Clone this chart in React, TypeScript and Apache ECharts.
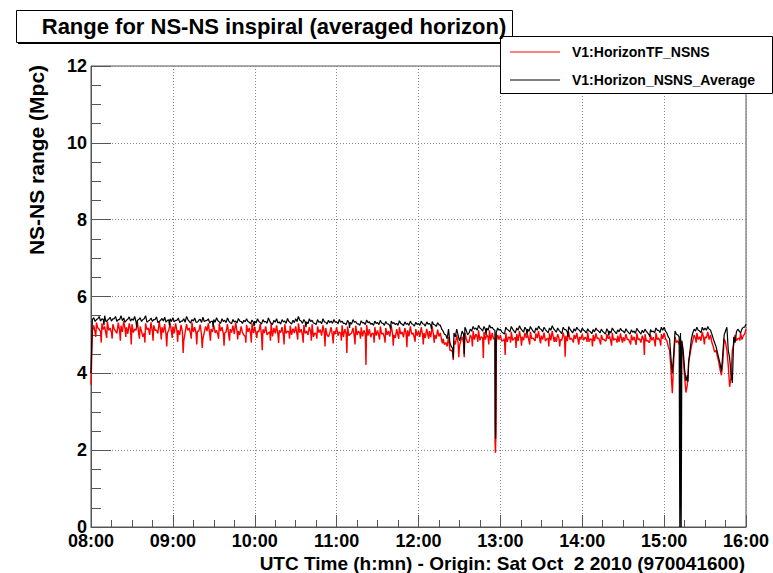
import React, { useEffect, useRef } from 'react';
import * as echarts from 'echarts';

const chartTitle = 'Range for NS-NS inspiral (averaged horizon)';
const yAxisTitle = 'NS-NS range (Mpc)';
const xAxisTitle = 'UTC Time (h:mn) - Origin: Sat Oct  2 2010 (970041600)';
const seriesNames = ['V1:HorizonTF_NSNS', 'V1:Horizon_NSNS_Average'];
const seriesColors = ['#ff0000', '#000000'];
const xTickLabels = ['08:00', '09:00', '10:00', '11:00', '12:00', '13:00', '14:00', '15:00', '16:00'];

// minutes since 08:00: "even" arrays at 0,2,4,...,480 ; "odd" arrays at 1,3,...,479
const sampleStepMin = 2;

const redEven = [
  3.7, 5.25, 5.32, 5.15, 5.30, 5.22, 5.35, 5.18, 5.28, 5.10, 5.32, 5.24, 5.36, 5.20, 5.30,
  5.28, 5.15, 5.34, 5.22, 4.95, 5.30, 5.18, 5.33, 5.25, 5.12, 5.35, 5.20, 5.28, 5.05, 5.30,
  5.22, 5.30, 5.12, 5.26, 4.85, 5.28, 5.18, 5.32, 5.20, 5.10, 5.27, 4.90, 5.22, 5.30, 5.15,
  5.25, 5.12, 5.30, 5.20, 5.05, 5.28, 5.15, 5.24, 5.32, 5.10, 5.22, 5.00, 5.26, 5.18, 5.30,
  5.20, 5.10, 5.28, 5.15, 5.22, 5.05, 5.30, 5.18, 5.25, 5.12, 5.20, 5.28, 5.10, 5.24, 5.16,
  5.22, 5.30, 5.15, 5.26, 5.10, 5.20, 5.28, 5.05, 5.22, 5.14, 5.25, 5.18, 4.95, 5.20, 5.10,
  5.20, 5.08, 5.25, 5.15, 5.22, 5.02, 5.18, 5.24, 5.10, 5.20, 5.12, 5.26, 5.15, 5.05, 5.20,
  5.12, 5.22, 5.05, 5.18, 5.10, 5.24, 5.00, 5.15, 5.20, 5.08, 5.18, 5.12, 5.22, 5.05, 5.15,
  5.10, 5.20, 5.05, 5.16, 5.10, 5.22, 5.00, 5.14, 5.05, 4.90, 4.80, 4.95, 4.60, 4.85, 5.00,
  4.70, 4.95, 5.05, 4.80, 5.00, 5.10, 5.02, 5.12, 4.95, 5.08, 5.00, 5.12, 5.05, 4.90, 5.00,
  5.00, 4.85, 5.05, 4.95, 5.08, 4.90, 5.02, 5.10, 4.95, 5.05, 5.00, 5.08, 4.92, 5.04, 5.10,
  4.98, 5.06, 4.90, 5.04, 5.10, 4.95, 5.02, 4.88, 5.06, 4.98, 5.08, 4.92, 5.00, 5.05, 4.95,
  5.02, 4.94, 5.06, 4.90, 5.00, 5.04, 4.92, 5.00, 4.88, 5.02, 4.96, 5.05, 4.90, 4.98, 5.04,
  4.94, 5.02, 4.88, 5.00, 4.95, 5.04, 4.90, 4.98, 5.02, 4.86, 5.00, 4.94, 5.05, 4.92, 5.02,
  5.05, 4.85, 4.60, 3.48, 4.95, 4.85, 4.90, 4.40, 3.50, 4.30, 4.70, 5.00, 5.05, 4.95, 5.08,
  4.95, 5.08, 5.00, 4.70, 4.60, 4.30, 3.95, 4.90, 4.60, 3.65, 4.60, 5.00, 4.90, 5.05, 4.98,
  5.15,
];

const redOdd = [
  5.10, 5.05, 5.18, 5.08, 5.14, 5.02, 5.12, 5.06, 5.16, 5.04, 5.10, 5.08, 5.15, 5.03, 5.12,
  5.06, 5.12, 5.02, 5.10, 5.05, 5.14, 5.00, 5.08, 5.12, 5.04, 5.10, 5.06, 5.00, 5.12, 5.08,
  5.04, 5.10, 5.00, 5.08, 5.06, 5.12, 5.02, 5.08, 5.04, 5.10, 5.00, 5.06, 5.10, 5.02, 5.08,
  5.05, 5.00, 5.10, 5.03, 5.08, 4.98, 5.06, 5.02, 5.10, 5.00, 5.06, 4.96, 5.08, 5.02, 5.05,
  5.02, 5.08, 4.98, 5.05, 5.00, 5.08, 4.96, 5.04, 5.00, 5.06, 4.98, 5.04, 5.08, 5.00, 5.05,
  5.00, 5.06, 4.98, 5.04, 5.00, 5.08, 4.95, 5.02, 5.06, 4.98, 5.04, 5.00, 5.06, 4.96, 5.02,
  4.98, 5.04, 4.95, 5.02, 4.98, 5.05, 4.94, 5.00, 5.04, 4.96, 5.02, 4.98, 4.94, 5.02, 4.98,
  4.96, 5.02, 4.94, 5.00, 4.96, 5.03, 4.92, 4.98, 5.02, 4.94, 5.00, 4.96, 5.02, 4.92, 4.98,
  4.95, 5.00, 4.92, 4.98, 4.94, 5.00, 4.90, 4.96, 4.85, 4.75, 4.70, 4.60, 4.55, 4.75, 4.80,
  4.85, 4.80, 4.90, 4.82, 4.92, 4.88, 4.95, 4.86, 4.92, 4.88, 4.94, 4.86, 4.90, 4.82, 4.88,
  4.84, 4.90, 4.82, 4.92, 4.86, 4.94, 4.84, 4.90, 4.86, 4.92, 4.84, 4.90, 4.86, 4.92, 4.85,
  4.88, 4.84, 4.92, 4.86, 4.90, 4.82, 4.90, 4.86, 4.92, 4.84, 4.88, 4.85, 4.90, 4.84, 4.88,
  4.86, 4.90, 4.82, 4.88, 4.84, 4.90, 4.82, 4.88, 4.84, 4.90, 4.82, 4.86, 4.88, 4.82, 4.86,
  4.84, 4.88, 4.80, 4.86, 4.82, 4.88, 4.80, 4.86, 4.84, 4.80, 4.86, 4.82, 4.88, 4.84, 4.90,
  4.90, 4.70, 4.10, 4.30, 4.80, 4.75, 4.60, 3.90, 3.70, 4.50, 4.85, 4.90, 4.88, 4.85, 4.90,
  4.92, 4.88, 4.80, 4.55, 4.45, 4.10, 4.30, 4.80, 4.20, 3.90, 4.75, 4.85, 4.92, 4.88, 5.02,
];

const blackEven = [
  4.00, 5.45, 5.40, 5.48, 5.42, 5.50, 5.38, 5.46, 5.42, 5.48, 5.40, 5.50, 5.44, 5.38, 5.47,
  5.42, 5.48, 5.38, 5.45, 5.40, 5.50, 5.36, 5.44, 5.40, 5.47, 5.35, 5.43, 5.46, 5.38, 5.42,
  5.45, 5.38, 5.44, 5.36, 5.42, 5.48, 5.35, 5.40, 5.44, 5.33, 5.41, 5.46, 5.37, 5.42, 5.35,
  5.40, 5.45, 5.34, 5.42, 5.38, 5.44, 5.32, 5.40, 5.36, 5.43, 5.35, 5.38, 5.42, 5.33, 5.39,
  5.36, 5.42, 5.32, 5.40, 5.35, 5.44, 5.30, 5.38, 5.42, 5.34, 5.40, 5.36, 5.43, 5.32, 5.38,
  5.42, 5.48, 5.36, 5.40, 5.34, 5.42, 5.38, 5.30, 5.40, 5.35, 5.42, 5.33, 5.38, 5.36, 5.40,
  5.34, 5.40, 5.36, 5.30, 5.38, 5.33, 5.40, 5.35, 5.29, 5.37, 5.32, 5.39, 5.34, 5.30, 5.36,
  5.32, 5.38, 5.30, 5.35, 5.28, 5.36, 5.32, 5.30, 5.37, 5.28, 5.34, 5.30, 5.36, 5.27, 5.33,
  5.30, 5.36, 5.28, 5.34, 5.30, 5.35, 5.26, 5.32, 5.25, 5.10, 5.00, 5.15, 4.70, 5.05, 5.15,
  4.85, 5.10, 5.20, 5.00, 5.15, 5.22, 5.18, 5.25, 5.15, 5.22, 5.18, 5.26, 5.20, 5.12, 5.18,
  5.15, 5.05, 5.20, 5.12, 5.22, 5.10, 5.18, 5.24, 5.12, 5.20, 5.15, 5.22, 5.10, 5.18, 5.23,
  5.14, 5.20, 5.10, 5.18, 5.24, 5.12, 5.18, 5.08, 5.20, 5.14, 5.22, 5.10, 5.16, 5.20, 5.12,
  5.18, 5.10, 5.16, 5.08, 5.14, 5.18, 5.10, 5.15, 5.06, 5.16, 5.10, 5.18, 5.08, 5.13, 5.17,
  5.10, 5.16, 5.06, 5.13, 5.10, 5.17, 5.07, 5.12, 5.15, 5.05, 5.14, 5.10, 5.18, 5.12, 5.20,
  5.20, 5.05, 4.90, 4.00, 5.10, 5.00, 5.05, 4.60, 3.80, 4.30, 4.90, 5.15, 5.20, 5.10, 5.20,
  5.18, 5.22, 5.12, 4.90, 4.70, 4.40, 4.05, 5.00, 5.20, 4.40, 3.75, 4.80, 5.15, 5.05, 5.20,
  5.28,
];

const blackOdd = [
  5.40, 5.35, 5.42, 5.36, 5.40, 5.34, 5.41, 5.36, 5.42, 5.35, 5.40, 5.37, 5.33, 5.41, 5.36,
  5.38, 5.34, 5.40, 5.35, 5.42, 5.33, 5.38, 5.35, 5.40, 5.32, 5.38, 5.36, 5.33, 5.39, 5.35,
  5.34, 5.38, 5.32, 5.36, 5.33, 5.40, 5.31, 5.36, 5.33, 5.38, 5.32, 5.35, 5.38, 5.31, 5.36,
  5.33, 5.37, 5.30, 5.35, 5.32, 5.36, 5.29, 5.34, 5.31, 5.36, 5.30, 5.34, 5.35, 5.29, 5.33,
  5.31, 5.35, 5.28, 5.34, 5.30, 5.36, 5.27, 5.33, 5.31, 5.28, 5.34, 5.30, 5.35, 5.28, 5.32,
  5.35, 5.38, 5.30, 5.34, 5.29, 5.35, 5.31, 5.27, 5.33, 5.29, 5.34, 5.28, 5.32, 5.30, 5.33,
  5.29, 5.33, 5.30, 5.26, 5.32, 5.28, 5.33, 5.29, 5.25, 5.31, 5.27, 5.32, 5.28, 5.25, 5.30,
  5.27, 5.31, 5.25, 5.29, 5.24, 5.30, 5.27, 5.25, 5.30, 5.24, 5.28, 5.25, 5.29, 5.23, 5.27,
  5.25, 5.29, 5.23, 5.28, 5.25, 5.28, 5.22, 5.26, 5.15, 5.02, 4.90, 4.80, 4.65, 4.95, 5.00,
  4.95, 5.02, 5.12, 5.05, 5.10, 5.15, 5.12, 5.18, 5.10, 5.15, 5.12, 5.18, 5.14, 5.06, 5.12,
  5.08, 5.02, 5.14, 5.08, 5.15, 5.05, 5.12, 5.16, 5.07, 5.14, 5.09, 5.15, 5.05, 5.12, 5.16,
  5.08, 5.14, 5.05, 5.12, 5.16, 5.07, 5.12, 5.03, 5.14, 5.08, 5.15, 5.05, 5.10, 5.14, 5.06,
  5.12, 5.05, 5.10, 5.03, 5.08, 5.12, 5.05, 5.09, 5.02, 5.10, 5.05, 5.12, 5.03, 5.08, 5.11,
  5.05, 5.10, 5.02, 5.07, 5.04, 5.11, 5.02, 5.06, 5.09, 5.00, 5.08, 5.05, 5.12, 5.06, 5.12,
  5.10, 4.95, 4.40, 4.50, 5.02, 4.95, 4.85, 4.10, 3.95, 4.60, 5.05, 5.10, 5.12, 5.06, 5.12,
  5.12, 5.15, 5.02, 4.80, 4.55, 4.25, 4.50, 5.10, 4.60, 4.00, 4.95, 5.08, 5.10, 5.15, 5.20,
];

// narrow glitches: [minutes since 08:00, Mpc]
const redSpikes = [
  [3.5, 4.95], [7.5, 4.8], [11.5, 4.92], [15.5, 4.9], [21.5, 4.85], [25.5, 4.95], [29.5, 4.75],
  [35.5, 4.9], [39.5, 4.8], [45.5, 4.85], [51.5, 4.88], [55.5, 4.7], [59.5, 4.92], [63.5, 4.82],
  [67.5, 4.53], [73.5, 4.9], [77.5, 4.75], [81.5, 4.66], [87.5, 4.85], [93.5, 4.9], [97.5, 4.72],
  [101.5, 4.85], [107.5, 4.88], [113.5, 4.8], [117.5, 4.8], [121.5, 4.92], [125.5, 4.6],
  [131.5, 4.85], [137.5, 4.79], [141.5, 4.75], [145.5, 4.9], [151.5, 4.88], [155.5, 4.8],
  [161.5, 4.85], [165.5, 4.9], [171.5, 4.7], [177.5, 4.78], [183.5, 4.85], [187.5, 4.53],
  [193.5, 4.75], [197.5, 4.9], [201.5, 4.22], [207.5, 4.8], [211.5, 4.88], [215.5, 4.8],
  [221.5, 4.72], [225.5, 4.9], [231.5, 4.68], [237.5, 4.82], [243.5, 4.75], [247.5, 4.9],
  [251.5, 4.8], [257.5, 4.78], [265.5, 4.35], [269.5, 4.42], [273.5, 4.42], [279.5, 4.7],
  [283.5, 4.82], [287.5, 4.4], [291.5, 4.75], [296.1, 2.2], [296.4, 1.93], [296.8, 2.5],
  [303.5, 4.48], [307.5, 4.8], [311.5, 4.66], [315.5, 4.72], [321.5, 4.75], [325.5, 4.85],
  [329.5, 4.78], [335.5, 4.7], [339.5, 4.82], [343.5, 4.7], [347.5, 4.43], [353.5, 4.8],
  [357.5, 4.75], [363.5, 4.82], [367.5, 4.7], [373.5, 4.75], [377.5, 4.85], [381.5, 4.72],
  [385.5, 4.8], [389.5, 4.8], [395.5, 4.75], [399.5, 4.74], [405.5, 4.48], [409.5, 4.82],
  [413.5, 4.7], [417.5, 4.72], [443.5, 4.8], [449.5, 4.75], [455.5, 4.8], [475.5, 4.85],
];
const blackSpikes = [
  [9.5, 5.25], [33.5, 5.2], [57.5, 5.25], [89.5, 5.2], [119.5, 5.22], [157.5, 5.2], [189.5, 5.18],
  [219.5, 5.15], [249.5, 5.15], [265.5, 4.4], [273.5, 4.5], [289.5, 5.0], [296.3, 2.6], [296.5, 2.3],
  [319.5, 5.0], [349.5, 4.95], [379.5, 4.98], [409.5, 4.95], [431.5, 0], [432.5, 0], [437.5, 3.78],
];

const FONT = "'Liberation Sans', Arial, Helvetica, sans-serif";

function buildSeries(even: number[], odd: number[], spikes: number[][]) {
  const pts: number[][] = [];
  even.forEach((v, i) => {
    pts.push([i * sampleStepMin, v]);
    if (i < odd.length) pts.push([i * sampleStepMin + sampleStepMin / 2, odd[i]]);
  });
  return pts.concat(spikes).sort((a, b) => a[0] - b[0]);
}

export default function App() {
  const ref = useRef<HTMLDivElement>(null);
  useEffect(() => {
    if (!ref.current) return;
    const chart = echarts.init(ref.current, undefined, { renderer: 'svg' });
    const axisColor = '#555';
    const option: any = {
      animation: false,
      backgroundColor: '#ffffff',
      grid: {
        left: 91, top: 66, width: 655, height: 461,
        show: true, borderColor: axisColor, borderWidth: 1, containLabel: false,
      },
      xAxis: {
        type: 'value', min: 0, max: 480, interval: 60,
        axisLine: { show: true, onZero: false, lineStyle: { color: axisColor, width: 1 } },
        axisTick: { show: true, inside: true, length: 12, lineStyle: { color: axisColor } },
        minorTick: { show: true, splitNumber: 4, length: 7, lineStyle: { color: axisColor } },
        splitLine: { show: true, lineStyle: { color: '#888', width: 1, type: [1, 2] } },
        axisLabel: {
          formatter: (v: number) => xTickLabels[Math.round(v / 60)] ?? '',
          fontSize: 18, fontWeight: 'bold', color: '#000', fontFamily: FONT, margin: 5,
        },
      },
      yAxis: {
        type: 'value', min: 0, max: 12, interval: 2,
        axisLine: { show: true, onZero: false, lineStyle: { color: axisColor, width: 1 } },
        axisTick: { show: true, inside: true, length: 20, lineStyle: { color: axisColor } },
        minorTick: { show: true, splitNumber: 4, length: 10, lineStyle: { color: axisColor } },
        splitLine: { show: true, lineStyle: { color: '#888', width: 1, type: [1, 2] } },
        axisLabel: { fontSize: 18, fontWeight: 'bold', color: '#000', fontFamily: FONT, margin: 4 },
      },
      series: [
        {
          type: 'line', name: seriesNames[0], data: buildSeries(redEven, redOdd, redSpikes),
          showSymbol: false, symbol: 'none', z: 2,
          lineStyle: { color: seriesColors[0], width: 1.4 }, itemStyle: { color: seriesColors[0] },
        },
        {
          type: 'line', name: seriesNames[1], data: buildSeries(blackEven, blackOdd, blackSpikes),
          showSymbol: false, symbol: 'none', z: 3,
          lineStyle: { color: seriesColors[1], width: 1.2 }, itemStyle: { color: seriesColors[1] },
        },
      ],
      graphic: [
        { type: 'rect', z: 100, shape: { x: 16.5, y: 10.5, width: 496, height: 32 },
          style: { fill: '#fff', stroke: '#000', lineWidth: 1 } },
        { type: 'line', z: 100, shape: { x1: 18, y1: 43.5, x2: 513, y2: 43.5 },
          style: { stroke: '#000', lineWidth: 1 } },
        { type: 'text', z: 101, x: 274, y: 26,
          style: { text: chartTitle, fill: '#000', font: `bold 22px ${FONT}`,
            align: 'center', verticalAlign: 'middle', textAlign: 'center', textVerticalAlign: 'middle' } },
        { type: 'rect', z: 100, shape: { x: 500.5, y: 36.5, width: 272, height: 57 },
          style: { fill: '#fff', stroke: '#000', lineWidth: 1 } },
        { type: 'line', z: 101, shape: { x1: 510, y1: 52, x2: 560, y2: 52 },
          style: { stroke: seriesColors[0], lineWidth: 1 } },
        { type: 'text', z: 101, x: 572, y: 52,
          style: { text: seriesNames[0], fill: '#000', font: `bold 14px ${FONT}`,
            align: 'left', verticalAlign: 'middle', textAlign: 'left', textVerticalAlign: 'middle' } },
        { type: 'line', z: 101, shape: { x1: 510, y1: 80, x2: 560, y2: 80 },
          style: { stroke: seriesColors[1], lineWidth: 1 } },
        { type: 'text', z: 101, x: 572, y: 80,
          style: { text: seriesNames[1], fill: '#000', font: `bold 14px ${FONT}`,
            align: 'left', verticalAlign: 'middle', textAlign: 'left', textVerticalAlign: 'middle' } },
        { type: 'text', z: 101, x: 36, y: 160, rotation: Math.PI / 2,
          style: { text: yAxisTitle, fill: '#000', font: `bold 21px ${FONT}`,
            align: 'center', verticalAlign: 'middle', textAlign: 'center', textVerticalAlign: 'middle' } },
        { type: 'text', z: 101, x: 745, y: 563,
          style: { text: xAxisTitle, fill: '#000', font: `bold 19px ${FONT}`,
            align: 'right', verticalAlign: 'middle', textAlign: 'right', textVerticalAlign: 'middle' } },
      ],
    };
    chart.setOption(option);
    return () => chart.dispose();
  }, []);
  return (
    <div
      ref={ref}
      style={{ position: 'absolute', left: 0, top: 0, width: 773, height: 573, background: '#fff' }}
    />
  );
}
